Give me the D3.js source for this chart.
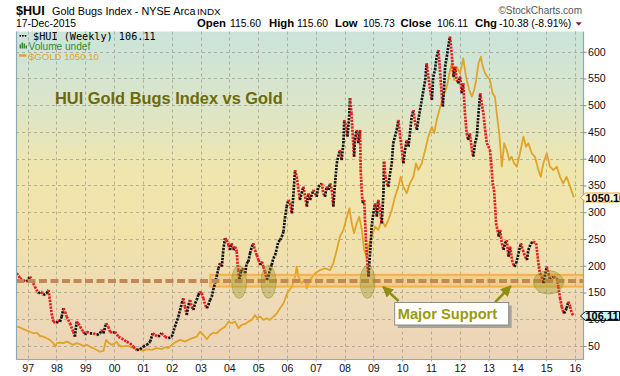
<!DOCTYPE html>
<html>
<head>
<meta charset="utf-8">
<script src="https://cdn.jsdelivr.net/npm/d3@7"></script>
<style>
  body { margin: 0; background: #fff; }
  svg { display: block; font-family: "Liberation Sans", Arial, sans-serif; }
</style>
</head>
<body>
<div id="chart-area"></div>
<script>
// SVG size
let width  = 620,
    height = 376;
let plot = { left: 16, right: 583, top: 31.5, bottom: 359 };

// ticks
const yearTicks = d3.range(1997, 2017);
const huiTicks  = d3.range(50, 601, 50);

// $HUI weekly close, [decimal year, value]
const huiWeekly = [
  [1996.62,186],[1996.73,177],[1996.85,173],[1996.97,170],[1997.08,180],[1997.14,173],[1997.25,161],
  [1997.37,148.5],[1997.49,151.5],[1997.54,145],[1997.66,148.5],[1997.72,154.7],[1997.77,136],[1997.83,111],
  [1997.89,95.4],[1998.01,92.4],[1998.06,98.6],[1998.12,95.4],[1998.18,104.8],[1998.24,120.5],[1998.30,114],
  [1998.35,104.8],[1998.47,92.4],[1998.58,76.7],[1998.64,67.4],[1998.70,95.4],[1998.76,92.4],[1998.82,86],
  [1998.93,76.7],[1998.99,70.6],[1999.05,76.7],[1999.16,73.7],[1999.28,73.7],[1999.40,70.6],[1999.51,73.7],
  [1999.57,80],[1999.63,73.7],[1999.72,92.4],[1999.80,86],[1999.86,76.7],[1999.97,73.7],[2000.03,76.7],
  [2000.15,67.4],[2000.26,64.4],[2000.44,58],[2000.55,55],[2000.67,48.7],[2000.78,42.5],[2000.90,43.8],
  [2001.01,48.7],[2001.13,52],[2001.25,58],[2001.34,73.7],[2001.42,70.6],[2001.53,67.4],[2001.65,73.7],
  [2001.77,67.4],[2001.88,64.4],[2002.00,67.4],[2002.11,86],[2002.23,104.8],[2002.35,129.8],[2002.40,139],
  [2002.46,123.5],[2002.52,108],[2002.58,126.6],[2002.64,136],[2002.69,123.5],[2002.75,117.3],[2002.81,129.8],
  [2002.87,136],[2002.92,145.3],[2002.98,151.5],[2003.04,148.5],[2003.10,139],[2003.16,126.6],[2003.22,120.5],
  [2003.27,126.6],[2003.33,136],[2003.39,142],[2003.44,154.7],[2003.50,167],[2003.56,179.5],[2003.62,195],
  [2003.68,204.6],[2003.74,198.2],[2003.79,229.4],[2003.85,251.3],[2003.91,248],[2003.97,238.8],[2004.02,229.4],
  [2004.08,242],[2004.14,229.4],[2004.20,235.6],[2004.26,226.3],[2004.28,207.6],[2004.31,192],[2004.35,173.4],
  [2004.40,188.9],[2004.47,195.2],[2004.55,185.9],[2004.60,204.6],[2004.66,207.6],[2004.72,223.3],[2004.78,235.6],
  [2004.83,242],[2004.89,229.4],[2004.95,220],[2005.01,210.7],[2005.07,201.4],[2005.13,207.6],[2005.18,198.2],
  [2005.24,188.9],[2005.30,173.4],[2005.35,179.5],[2005.41,192],[2005.47,201.4],[2005.53,214],[2005.59,220],
  [2005.65,232.6],[2005.70,245],[2005.76,248],[2005.82,254.3],[2005.88,263.6],[2005.93,289],[2005.99,310.4],
  [2006.05,322.9],[2006.11,316.7],[2006.17,298],[2006.22,329],[2006.28,379],[2006.34,366.4],[2006.40,341.6],
  [2006.45,322.9],[2006.51,335.4],[2006.57,347.7],[2006.63,329],[2006.69,310.4],[2006.74,335.4],[2006.80,322.9],
  [2006.92,341.6],[2007.03,329],[2007.09,347.7],[2007.21,354],[2007.26,335.4],[2007.32,329],[2007.38,347.7],
  [2007.44,341.6],[2007.50,354],[2007.56,341.6],[2007.61,310.4],[2007.67,354],[2007.73,391.5],[2007.78,403.8],
  [2007.84,416.3],[2007.90,397.6],[2007.96,428.9],[2007.99,472.4],[2008.05,459.9],[2008.10,441.2],[2008.16,478.6],
  [2008.19,513],[2008.24,485],[2008.28,447.5],[2008.33,403.8],[2008.36,435],[2008.42,453.7],[2008.48,428.9],
  [2008.54,453.7],[2008.56,379],[2008.60,335.4],[2008.63,316.7],[2008.68,322.9],[2008.71,285.5],[2008.75,242],
  [2008.79,204.6],[2008.83,179.5],[2008.86,204.6],[2008.91,242],[2008.94,273],[2009.00,298],[2009.06,316.7],
  [2009.12,291.7],[2009.17,322.9],[2009.23,304.2],[2009.29,279.3],[2009.35,335.4],[2009.37,394.5],[2009.42,366.4],
  [2009.47,354],[2009.52,347.7],[2009.58,372.8],[2009.64,391.5],[2009.69,428.9],[2009.75,441.2],[2009.81,453.7],
  [2009.87,472.4],[2009.93,441.2],[2009.99,416.3],[2010.04,391.5],[2010.10,416.3],[2010.16,435],[2010.22,422.5],
  [2010.27,447.5],[2010.33,478.6],[2010.39,491],[2010.45,466.2],[2010.51,453.7],[2010.56,472.4],[2010.62,491],
  [2010.68,509.8],[2010.74,528.5],[2010.80,547.2],[2010.85,578.4],[2010.91,553.3],[2010.97,528.5],[2011.03,509.8],
  [2011.08,553.3],[2011.14,565.9],[2011.20,590.7],[2011.26,603.2],[2011.32,559.7],[2011.38,516],[2011.41,497.3],
  [2011.45,528.5],[2011.49,572],[2011.55,590.7],[2011.60,609.4],[2011.66,628.1],[2011.72,597],[2011.78,553.3],
  [2011.84,572],[2011.89,547.2],[2011.95,541],[2012.01,553.3],[2012.07,522.3],[2012.12,541],[2012.18,485],
  [2012.24,447.5],[2012.29,435],[2012.35,447.5],[2012.42,416.3],[2012.47,403.8],[2012.53,428.9],[2012.59,441.2],
  [2012.65,485],[2012.71,522.3],[2012.76,503.6],[2012.82,485],[2012.88,453.7],[2012.94,428.9],[2013.05,416.3],
  [2013.11,379],[2013.14,354],[2013.19,341.6],[2013.22,316.7],[2013.26,279.3],[2013.31,266.8],[2013.35,254.3],
  [2013.40,266.8],[2013.46,242],[2013.52,229.4],[2013.57,242],[2013.63,248],[2013.69,217],[2013.75,235.6],
  [2013.81,210.7],[2013.89,198.2],[2013.96,204.6],[2014.04,223.3],[2014.12,242],[2014.19,229.4],[2014.27,217],
  [2014.33,210.7],[2014.38,229.4],[2014.47,242],[2014.55,245],[2014.65,242],[2014.73,204.6],[2014.78,185.9],
  [2014.85,179.5],[2014.90,167.2],[2015.02,198.2],[2015.08,185.9],[2015.13,173.4],[2015.25,179.5],[2015.37,176.5],
  [2015.42,160.8],[2015.48,139.7],[2015.54,123.5],[2015.59,114],[2015.62,111],[2015.71,120.5],[2015.77,132.8],
  [2015.83,123.5],[2015.89,111],[2015.96,106.11]
];

// $GOLD weekly close, [decimal year, value]
const goldWeekly = [
  [1996.62,384],[1996.73,381],[1996.85,371],[1996.97,364],[1997.08,358],[1997.19,350],[1997.31,353],
  [1997.43,336],[1997.54,333],[1997.66,324],[1997.77,316],[1997.89,299],[1997.95,281],[1998.01,299],
  [1998.12,302],[1998.24,299],[1998.35,307],[1998.47,299],[1998.58,290],[1998.70,299],[1998.82,293],
  [1998.93,285],[1999.05,290],[1999.16,281],[1999.28,273],[1999.40,264],[1999.51,255],[1999.63,259],
  [1999.72,316],[1999.80,302],[1999.92,290],[2000.03,299],[2000.09,307],[2000.15,290],[2000.26,281],
  [2000.44,285],[2000.55,281],[2000.67,273],[2000.78,268],[2000.90,264],[2001.01,260],[2001.13,268],
  [2001.31,264],[2001.48,273],[2001.65,268],[2001.77,278],[2001.88,273],[2002.00,290],[2002.11,302],
  [2002.29,316],[2002.46,307],[2002.58,316],[2002.69,324],[2002.87,333],[2002.98,358],[2003.10,341],
  [2003.22,319],[2003.33,341],[2003.44,353],[2003.56,350],[2003.68,367],[2003.85,384],[2003.97,410],
  [2004.08,402],[2004.20,410],[2004.32,376],[2004.43,393],[2004.55,398],[2004.66,410],[2004.78,419],
  [2004.89,444],[2004.97,427],[2005.07,436],[2005.18,419],[2005.30,427],[2005.41,419],[2005.53,436],
  [2005.65,453],[2005.76,479],[2005.88,505],[2005.99,548],[2006.05,565],[2006.17,590],[2006.28,642],
  [2006.34,693],[2006.40,642],[2006.51,608],[2006.63,625],[2006.69,582],[2006.80,625],[2006.98,659],
  [2007.15,676],[2007.32,685],[2007.50,676],[2007.61,711],[2007.73,780],[2007.84,848],[2007.96,883],
  [2008.08,951],[2008.17,994],[2008.25,917],[2008.33,866],[2008.42,917],[2008.51,951],[2008.60,883],
  [2008.68,780],[2008.77,745],[2008.86,814],[2008.94,848],[2009.06,900],[2009.17,883],[2009.29,934],
  [2009.41,900],[2009.52,934],[2009.64,986],[2009.75,1054],[2009.87,1106],[2009.95,1157],[2010.04,1106],
  [2010.16,1072],[2010.27,1123],[2010.39,1157],[2010.48,1226],[2010.56,1192],[2010.68,1226],[2010.80,1295],
  [2010.91,1364],[2011.03,1415],[2011.11,1381],[2011.20,1450],[2011.32,1518],[2011.43,1570],[2011.55,1621],
  [2011.64,1690],[2011.72,1742],[2011.80,1656],[2011.90,1724],[2012.01,1690],[2012.12,1768],[2012.18,1707],
  [2012.24,1656],[2012.33,1604],[2012.42,1570],[2012.50,1604],[2012.57,1656],[2012.65,1742],[2012.73,1776],
  [2012.80,1724],[2012.88,1690],[2012.96,1673],[2013.05,1656],[2013.14,1587],[2013.22,1570],[2013.31,1450],
  [2013.37,1381],[2013.46,1209],[2013.54,1330],[2013.63,1295],[2013.72,1243],[2013.80,1260],[2013.89,1226],
  [2013.98,1209],[2014.09,1278],[2014.21,1364],[2014.30,1312],[2014.38,1330],[2014.50,1278],[2014.61,1260],
  [2014.73,1192],[2014.81,1157],[2014.90,1226],[2015.02,1278],[2015.13,1209],[2015.25,1192],[2015.37,1209],
  [2015.48,1157],[2015.59,1123],[2015.71,1157],[2015.83,1106],[2015.96,1050.1]
];

// annotations (data units)
const supportLevel = 171.5;
const supportBand  = { from: 2003.34, low: 161, high: 183 };
const supportZones = [
  { year: 2004.34, value: 170, rx: 0.26, ry: 31 },
  { year: 2005.36, value: 170, rx: 0.26, ry: 31 },
  { year: 2008.80, value: 170, rx: 0.26, ry: 31 },
  { year: 2015.08, value: 169, rx: 0.52, ry: 22 }
];
const supportArrows = [
  { from: [2009.875, 134], to: [2009.34, 160.5] },
  { from: [2013.23, 132], to: [2013.77, 162] }
];

const headerItems = [
  { label: "Open",  value: "115.60", lx: 197,   vx: 230 },
  { label: "High",  value: "115.60", lx: 269,   vx: 297 },
  { label: "Low",   value: "105.73", lx: 335,   vx: 363 },
  { label: "Close", value: "106.11", lx: 400.5, vx: 437 },
  { label: "Chg",   value: "-10.38 (-8.91%)", lx: 475, vx: 499 }
];

// scales
let x = d3.scaleLinear()
  .domain([1996.594, 2016.278])
  .range([plot.left, plot.right]);

let y = d3.scaleLinear()
  .domain([25.7, 637.8])
  .range([plot.bottom, plot.top]);

let goldScale = d3.scaleLinear()
  .domain([255, 1050.1])
  .range([351.7, 197.5]);

let svg = d3.select("#chart-area")
  .append("svg")
  .attr("width", width)
  .attr("height", height);

let defs = svg.append("defs");
let grad = defs.append("linearGradient")
  .attr("id", "bg")
  .attr("gradientUnits", "userSpaceOnUse")
  .attr("x1", 0).attr("x2", 0)
  .attr("y1", plot.top).attr("y2", plot.bottom);
[[0, "#cbe4db"], [0.2, "#d9e5cb"], [0.42, "#efe6ae"], [0.62, "#f1e2aa"], [0.82, "#eedbb6"], [1, "#ebd3b8"]]
  .forEach(s => grad.append("stop").attr("offset", s[0]).attr("stop-color", s[1]));

defs.append("clipPath").attr("id", "clip")
  .append("rect")
  .attr("x", plot.left).attr("y", plot.top)
  .attr("width", plot.right - plot.left)
  .attr("height", plot.bottom - plot.top);

defs.append("marker")
  .attr("id", "arrowhead")
  .attr("viewBox", "0 0 10 10")
  .attr("refX", 9).attr("refY", 5)
  .attr("markerWidth", 4.2).attr("markerHeight", 4.2)
  .attr("orient", "auto")
  .append("path")
  .attr("d", "M0,0 L10,5 L0,10 z")
  .attr("fill", "#8e8e12");

// background
svg.append("rect")
  .attr("x", plot.left).attr("y", plot.top)
  .attr("width", plot.right - plot.left)
  .attr("height", plot.bottom - plot.top)
  .attr("fill", "url(#bg)");

// grid
let grid = svg.append("g")
  .attr("stroke", "#9f9f8c")
  .attr("stroke-width", 1)
  .attr("stroke-dasharray", "3,3")
  .attr("opacity", 0.75);

grid.selectAll(".vgrid")
  .data(yearTicks)
  .enter()
  .append("line")
  .attr("x1", d => Math.round(x(d)) + 0.5)
  .attr("x2", d => Math.round(x(d)) + 0.5)
  .attr("y1", plot.top)
  .attr("y2", plot.bottom);

grid.selectAll(".hgrid")
  .data(huiTicks)
  .enter()
  .append("line")
  .attr("x1", plot.left)
  .attr("x2", plot.right)
  .attr("y1", d => Math.round(y(d)) + 0.5)
  .attr("y2", d => Math.round(y(d)) + 0.5);

let plotG = svg.append("g").attr("clip-path", "url(#clip)");

// gold overlay
let goldLine = d3.line()
  .x(d => x(d[0]))
  .y(d => goldScale(d[1]));

plotG.append("path")
  .datum(goldWeekly)
  .attr("d", goldLine)
  .attr("fill", "none")
  .attr("stroke", "#e2a428")
  .attr("stroke-width", 1.8)
  .attr("stroke-linejoin", "round");

// support band
plotG.append("rect")
  .attr("x", x(supportBand.from))
  .attr("y", y(supportBand.high))
  .attr("width", plot.right - x(supportBand.from) + 4)
  .attr("height", y(supportBand.low) - y(supportBand.high))
  .attr("fill", "rgba(250,180,70,0.35)")
  .attr("stroke", "rgba(246,170,60,0.85)")
  .attr("stroke-width", 2);

// HUI dotted line: black for up weeks, red for down weeks
plotG.append("g")
  .selectAll("line")
  .data(d3.pairs(huiWeekly))
  .enter()
  .append("line")
  .attr("x1", d => x(d[0][0]))
  .attr("y1", d => y(d[0][1]))
  .attr("x2", d => x(d[1][0]))
  .attr("y2", d => y(d[1][1]))
  .attr("stroke", d => d[1][1] >= d[0][1] ? "#151515" : "#ea1b1f")
  .attr("stroke-width", 2.7)
  .attr("stroke-dasharray", "2.2,1.1");

// support line
plotG.append("line")
  .attr("x1", plot.left)
  .attr("x2", plot.right)
  .attr("y1", y(supportLevel))
  .attr("y2", y(supportLevel))
  .attr("stroke", "#c4875a")
  .attr("stroke-width", 4)
  .attr("stroke-dasharray", "8,3.5");

// zones
plotG.selectAll(".zone")
  .data(supportZones)
  .enter()
  .append("ellipse")
  .attr("cx", d => x(d.year))
  .attr("cy", d => y(d.value))
  .attr("rx", d => x(d.year + d.rx) - x(d.year))
  .attr("ry", d => y(d.value - d.ry) - y(d.value))
  .attr("fill", "rgba(150,150,40,0.38)")
  .attr("stroke", "rgba(140,140,40,0.45)")
  .attr("stroke-width", 1);

// arrows
svg.selectAll(".arrow")
  .data(supportArrows)
  .enter()
  .append("line")
  .attr("x1", d => x(d.from[0]))
  .attr("y1", d => y(d.from[1]))
  .attr("x2", d => x(d.to[0]))
  .attr("y2", d => y(d.to[1]))
  .attr("stroke", "#8e8e12")
  .attr("stroke-width", 2.6)
  .attr("marker-end", "url(#arrowhead)");

// annotation box
let boxX = x(2009.74), boxY = y(131.3);
svg.append("rect")
  .attr("x", boxX + 3).attr("y", boxY + 3)
  .attr("width", 114).attr("height", 22.5)
  .attr("fill", "#a9a49a");
svg.append("rect")
  .attr("x", boxX).attr("y", boxY)
  .attr("width", 114).attr("height", 22.5)
  .attr("fill", "#fff")
  .attr("stroke", "#8c8c8c")
  .attr("stroke-width", 1);
svg.append("text")
  .text("Major Support")
  .attr("x", boxX + 3)
  .attr("y", boxY + 16.3)
  .style("font-size", "14.7px")
  .style("font-weight", "bold")
  .attr("fill", "#999a0c");

// chart title
svg.append("text")
  .text("HUI Gold Bugs Index vs Gold")
  .attr("x", 55)
  .attr("y", 104)
  .style("font-size", "16.4px")
  .style("font-weight", "bold")
  .attr("fill", "#6d6a0b");

// borders
svg.append("path")
  .attr("d", `M${plot.left + 0.5},${plot.top} V${plot.bottom + 0.5} H${plot.right + 0.5} V${plot.top}`)
  .attr("fill", "none")
  .attr("stroke", "#8eaab3")
  .attr("stroke-width", 1.2);

// axes
let xAxis = d3.axisBottom(x)
  .tickValues(yearTicks)
  .tickSize(2)
  .tickPadding(3)
  .tickFormat(d => String(d).slice(2));

svg.append("g")
  .attr("class", "axis x-axis")
  .attr("transform", "translate(0," + (plot.bottom + 0.5) + ")")
  .call(xAxis)
  .call(g => g.select(".domain").remove())
  .call(g => g.selectAll("line").attr("stroke", "#8eaab3"))
  .call(g => g.selectAll("text").style("font-size", "10.6px").attr("fill", "#111")
    .style("font-family", "'Liberation Sans', Arial, sans-serif"));

let yAxis = d3.axisRight(y)
  .tickValues(huiTicks)
  .tickSize(3)
  .tickPadding(1.5);

svg.append("g")
  .attr("class", "axis y-axis")
  .attr("transform", "translate(" + (plot.right + 0.5) + ",0)")
  .call(yAxis)
  .call(g => g.select(".domain").remove())
  .call(g => g.selectAll("line").attr("stroke", "#6f8f99"))
  .call(g => g.selectAll("text").style("font-size", "10.6px").attr("fill", "#111")
    .style("font-family", "'Liberation Sans', Arial, sans-serif"));

// last-value tags
let goldLast = goldWeekly[goldWeekly.length - 1],
    huiLast  = huiWeekly[huiWeekly.length - 1];

function valueTag(yy, fill, stroke, label) {
  let g = svg.append("g").attr("transform", "translate(0," + yy + ")");
  g.append("path")
    .attr("d", "M580.5,0 L585.5,-4.5 H619.5 V4.5 H585.5 Z")
    .attr("fill", fill)
    .attr("stroke", stroke)
    .attr("stroke-width", 1);
  g.append("text")
    .text(label)
    .attr("x", 585.5)
    .attr("y", 4)
    .style("font-size", "11px")
    .style("font-weight", "bold")
    .attr("fill", "#000");
}
valueTag(goldScale(goldLast[1]), "#fdf6de", "#e2a428", "1050.10");
valueTag(y(huiLast[1]), "#c9f7f7", "#111", "106.11");

// header
svg.append("text")
  .attr("x", 16).attr("y", 15)
  .call(t => t.append("tspan").text("$HUI").style("font-size", "12.6px").style("font-weight", "bold"))
  .call(t => t.append("tspan").text(" Gold Bugs Index - NYSE Arca").attr("x", 49).style("font-size", "10.8px"))
  .call(t => t.append("tspan").text("INDX").attr("x", 197).style("font-size", "9.9px"))
  .attr("fill", "#000");

svg.append("text")
  .text("17-Dec-2015")
  .attr("x", 16).attr("y", 26.7)
  .style("font-size", "10.4px")
  .attr("fill", "#000");

svg.append("text")
  .text("\u00A9StockCharts.com")
  .attr("x", 582).attr("y", 14)
  .style("font-size", "10px")
  .style("text-anchor", "end")
  .attr("fill", "#555");

let hdr = svg.append("g");
headerItems.forEach(h => {
  hdr.append("text").text(h.label)
    .attr("x", h.lx).attr("y", 26.7)
    .style("font-size", "11.3px").style("font-weight", "bold");
  hdr.append("text").text(h.value)
    .attr("x", h.vx).attr("y", 26.7)
    .style("font-size", "10.4px");
});
svg.append("path")
  .attr("d", "M575.7,22.3 H581.7 L578.7,25.8 Z")
  .attr("fill", "#8b1538");

// legend
svg.append("text")
  .text("$HUI (Weekly) 106.11")
  .attr("x", 33).attr("y", 39.5)
  .style("font-family", "'DejaVu Sans Mono', monospace")
  .style("font-size", "10.2px")
  .attr("fill", "#000");
svg.selectAll(".ldot")
  .data([0, 1, 2])
  .enter()
  .append("rect")
  .attr("x", d => 19.5 + d * 2.6).attr("y", 35)
  .attr("width", 1.6).attr("height", 1.6)
  .attr("fill", "#000");

svg.selectAll(".lvol")
  .data([4, 6, 5, 3])
  .enter()
  .append("rect")
  .attr("x", (d, i) => 19.5 + i * 2)
  .attr("y", d => 48.5 - d)
  .attr("width", 1.5)
  .attr("height", d => d)
  .attr("fill", "#2e8f2e");
svg.append("text")
  .text("Volume undef")
  .attr("x", 28.5).attr("y", 49.5)
  .style("font-size", "10.1px")
  .attr("fill", "#2e8f2e");

svg.append("line")
  .attr("x1", 19).attr("x2", 26.5)
  .attr("y1", 55.5).attr("y2", 55.5)
  .attr("stroke", "#e2a428")
  .attr("stroke-width", 2.4);
svg.append("text")
  .text("$GOLD 1050.10")
  .attr("x", 29).attr("y", 59.5)
  .style("font-size", "9.6px")
  .attr("fill", "#e2a428");
</script>
</body>
</html>
